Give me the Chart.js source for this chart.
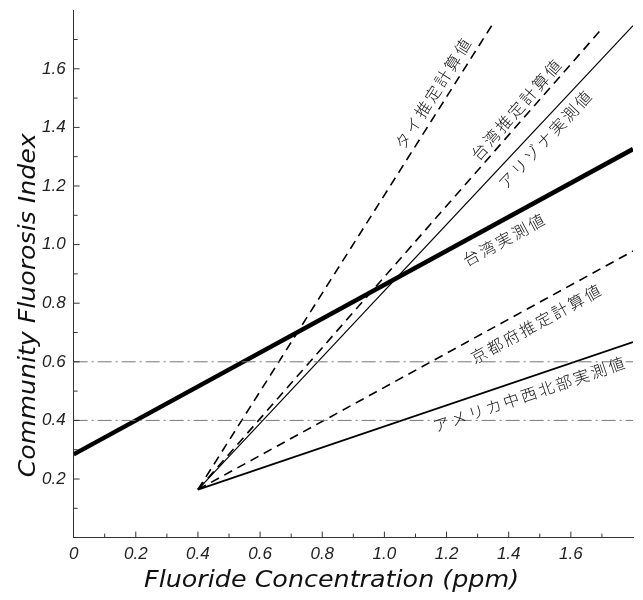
<!DOCTYPE html>
<html>
<head>
<meta charset="utf-8">
<script src="https://cdn.jsdelivr.net/npm/chart.js@4.4.1/dist/chart.umd.min.js"></script>
<style>
    html, body { margin: 0; padding: 0; background: #fff; }
    #wrap { width: 643px; height: 600px; }
</style>
</head>
<body>
<div id="wrap"><canvas id="fluorosisChart"></canvas></div>
<script>
// 各系列の端点 (x: フッ素濃度 ppm, y: Community Fluorosis Index)
const taiwanObsX = [0, 1.8];
const taiwanObsY = [0.284, 1.326];
const usaX = [0.4, 1.8];
const usaY = [0.164, 0.667];
const kyotoX = [0.4, 1.8];
const kyotoY = [0.164, 0.978];
const arizonaX = [0.4, 1.8];
const arizonaY = [0.164, 1.747];
const taiwanEstX = [0.4, 1.70];
const taiwanEstY = [0.164, 1.737];
const thaiX = [0.4, 1.345];
const thaiY = [0.164, 1.747];

// 基準線
const refX = [0, 1.8];
const ref06Y = [0.6, 0.6];
const ref04Y = [0.4, 0.4];

// 目盛
const xTicks = [0, 0.2, 0.4, 0.6, 0.8, 1.0, 1.2, 1.4, 1.6];
const yTicks = [0.2, 0.4, 0.6, 0.8, 1.0, 1.2, 1.4, 1.6];
const minorTicks = [0.1, 0.2, 0.3, 0.4, 0.5, 0.6, 0.7, 0.8, 0.9, 1.0, 1.1, 1.2, 1.3, 1.4, 1.5, 1.6, 1.7];

// 線に沿ったラベル
const lineLabels = [
    { text: 'タイ推定計算値', series: 'thai', x: 1.158, y: 1.518 },
    { text: '台湾推定計算値', series: 'taiwanEst', x: 1.426, y: 1.463 },
    { text: 'アリゾナ実測値', series: 'arizona', x: 1.519, y: 1.36 },
    { text: '台湾実測値', series: 'taiwanObs', x: 1.387, y: 1.018 },
    { text: '京都府推定計算値', series: 'kyoto', x: 1.49, y: 0.731 },
    { text: 'アメリカ中西北部実測値', series: 'usa', x: 1.468, y: 0.49 }
];

const tickFont = { family: "'Liberation Sans', 'DejaVu Sans', sans-serif", size: 17, style: 'italic' };

function toPoints(xs, ys) {
    return xs.map((x, i) => ({ x: x, y: ys[i] }));
}

function fmt(v) {
    return v === 0 ? '0' : v.toFixed(1);
}

function isListed(list, v) {
    return list.some(t => Math.abs(t - v) < 1e-6);
}

// 内向きの目盛
const inwardTicks = {
    id: 'inwardTicks',
    afterDraw(chart) {
        const { ctx, scales: { x, y } } = chart;
        ctx.save();
        ctx.strokeStyle = '#333';
        ctx.lineWidth = 1;
        minorTicks.forEach(v => {
            const major = Math.round(v * 10) % 2 === 0;
            const len = major ? 6 : 4;
            const py = y.getPixelForValue(v);
            ctx.beginPath();
            ctx.moveTo(x.left, py);
            ctx.lineTo(x.left + len, py);
            ctx.stroke();
            const px = x.getPixelForValue(v);
            ctx.beginPath();
            ctx.moveTo(px, y.bottom);
            ctx.lineTo(px, y.bottom - len);
            ctx.stroke();
        });
        ctx.restore();
    }
};

// 線ラベル
const lineLabelPlugin = {
    id: 'lineLabelPlugin',
    afterDatasetsDraw(chart) {
        const { ctx, scales: { x, y } } = chart;
        ctx.save();
        ctx.fillStyle = '#111';
        ctx.font = "300 16px 'Noto Sans CJK JP', sans-serif";
        ctx.textAlign = 'center';
        ctx.textBaseline = 'middle';
        if ('letterSpacing' in ctx) ctx.letterSpacing = '2.5px';
        lineLabels.forEach(lb => {
            const idx = chart.data.datasets.findIndex(d => d.key === lb.series);
            const pts = chart.getDatasetMeta(idx).data;
            const a = Math.atan2(pts[1].y - pts[0].y, pts[1].x - pts[0].x);
            ctx.save();
            ctx.translate(x.getPixelForValue(lb.x), y.getPixelForValue(lb.y));
            ctx.rotate(a);
            ctx.fillText(lb.text, 0, 0);
            ctx.restore();
        });
        ctx.restore();
    }
};

// 軸タイトル (幅を合わせる)
function fitText(ctx, text, cx, cy, width, angle) {
    const w = ctx.measureText(text).width;
    ctx.save();
    ctx.translate(cx, cy);
    ctx.rotate(angle);
    ctx.scale(width / w, 1);
    ctx.fillText(text, 0, 0);
    ctx.restore();
}

const axisTitles = {
    id: 'axisTitles',
    afterDraw(chart) {
        const { ctx, scales: { x, y } } = chart;
        ctx.save();
        ctx.fillStyle = '#111';
        ctx.textAlign = 'center';
        ctx.textBaseline = 'middle';
        ctx.font = "italic 23px 'DejaVu Sans', sans-serif";
        fitText(ctx, 'Fluoride Concentration (ppm)', x.getPixelForValue(0.83), 581, 375, 0);
        fitText(ctx, 'Community Fluorosis Index', 29, y.getPixelForValue(0.793), 344, -Math.PI / 2);
        ctx.restore();
    }
};

const dashed = [9, 6];
const dashDot = [14, 4, 2, 4];

const datasets = [
    { key: 'ref06', data: toPoints(refX, ref06Y), borderColor: '#777', borderWidth: 1, borderDash: dashDot },
    { key: 'ref04', data: toPoints(refX, ref04Y), borderColor: '#777', borderWidth: 1, borderDash: dashDot },
    { key: 'taiwanObs', data: toPoints(taiwanObsX, taiwanObsY), borderColor: '#000', borderWidth: 4.5 },
    { key: 'usa', data: toPoints(usaX, usaY), borderColor: '#000', borderWidth: 1.8 },
    { key: 'kyoto', data: toPoints(kyotoX, kyotoY), borderColor: '#000', borderWidth: 1.6, borderDash: dashed },
    { key: 'arizona', data: toPoints(arizonaX, arizonaY), borderColor: '#000', borderWidth: 1.2 },
    { key: 'taiwanEst', data: toPoints(taiwanEstX, taiwanEstY), borderColor: '#000', borderWidth: 1.6, borderDash: dashed },
    { key: 'thai', data: toPoints(thaiX, thaiY), borderColor: '#000', borderWidth: 1.6, borderDash: dashed }
];

const ctx = document.getElementById('fluorosisChart').getContext('2d');
new Chart(ctx, {
    type: 'scatter',
    data: { datasets: datasets.map(d => Object.assign({ showLine: true, pointRadius: 0, fill: false }, d)) },
    options: {
        responsive: true,
        maintainAspectRatio: false,
        animation: false,
        layout: { padding: { left: 42, right: 10, top: -21, bottom: 38 } },
        plugins: { legend: { display: false }, tooltip: { enabled: false } },
        scales: {
            x: {
                type: 'linear',
                min: 0,
                max: 1.8,
                grid: { display: false },
                border: { display: true, color: '#333', width: 1 },
                ticks: {
                    stepSize: 0.2,
                    padding: -2,
                    color: '#222',
                    font: tickFont,
                    maxRotation: 0,
                    callback: v => isListed(xTicks, v) ? fmt(v) : ''
                }
            },
            y: {
                type: 'linear',
                min: 0,
                max: 1.8,
                grid: { display: false },
                border: { display: true, color: '#333', width: 1 },
                ticks: {
                    stepSize: 0.2,
                    padding: 0,
                    color: '#222',
                    font: tickFont,
                    callback: v => isListed(yTicks, v) ? fmt(v) : ''
                }
            }
        }
    },
    plugins: [inwardTicks, lineLabelPlugin, axisTitles]
});
</script>
</body>
</html>
